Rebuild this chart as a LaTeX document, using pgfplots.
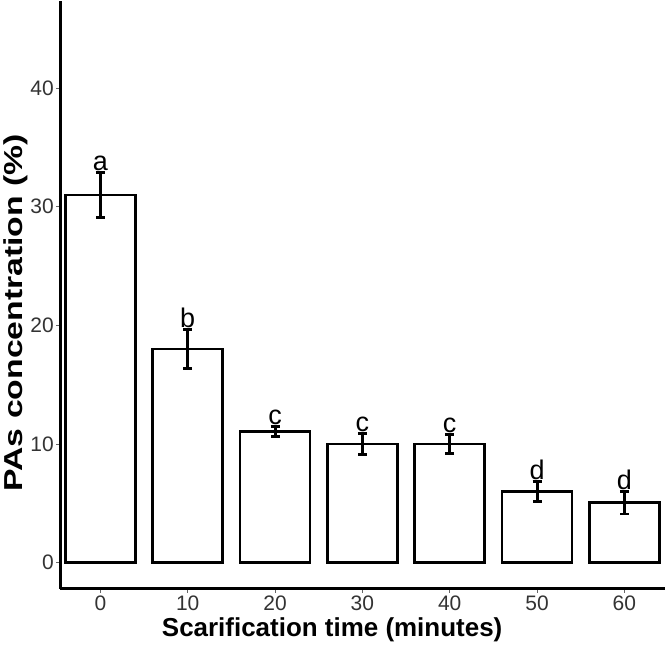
\documentclass[border=0pt]{standalone}
\usepackage{pgfplots}
\pgfplotsset{compat=1.18}
\usepackage{fontspec}
\setmainfont{Liberation Sans}
\begin{document}
\begin{tikzpicture}
\begin{axis}[
  scale only axis,
  width=603bp, height=586bp,
  xmin=-0.46, xmax=6.46,
  ymin=-2.2, ymax=47.3,
  axis x line*=bottom, axis y line*=left,
  axis line style={-, line width=3pt, black},
  xtick={0,1,2,3,4,5,6},
  xticklabels={0,10,20,30,40,50,60},
  ytick={0,10,20,30,40},
  tick align=outside,
  major tick length=4pt,
  tick style={line width=0.8pt, black!60},
  /pgf/number format/assume math mode=true,
  ticklabel style={font=\fontsize{21}{24}\selectfont, text=black!80},
  yticklabel style={xshift=1pt},
  xlabel={\textbf{Scarification time (minutes)}},
  ylabel={\scalebox{1.3}[1]{\textbf{PAs concentration (\%)}}},
  label style={font=\fontsize{26}{30}\selectfont},
  xlabel style={at={(ticklabel cs:0.45)}},
  ylabel style={at={(ticklabel cs:0.47)}},
  ylabel shift=-4pt,
  clip=false,
]
\addplot[ybar, bar width=0.8, fill=white, draw=black, line width=2.6pt,
  error bars/.cd, y dir=both, y explicit,
  error bar style={line width=3pt, black},
  error mark options={rotate=90, line width=3pt, mark size=4.5pt, black}]
  table[x=x, y=y, y error=e] {
x y e
0 31.0 1.9
1 18.0 1.65
2 11.05 0.45
3 10.0 0.85
4 10.0 0.8
5 6.0 0.85
6 5.05 0.95
};
\addplot[draw=none, nodes near coords, point meta=explicit symbolic,
  nodes near coords style={anchor=base, inner sep=0pt, yshift=2pt, font=\fontsize{27}{27}\selectfont, text=black}]
  table[x=x, y=y, meta=lab] {
x y lab
0 32.9 a
1 19.65 b
2 11.5 c
3 10.85 c
4 10.8 c
5 6.85 d
6 6.0 d
};
\end{axis}
\end{tikzpicture}
\end{document}
